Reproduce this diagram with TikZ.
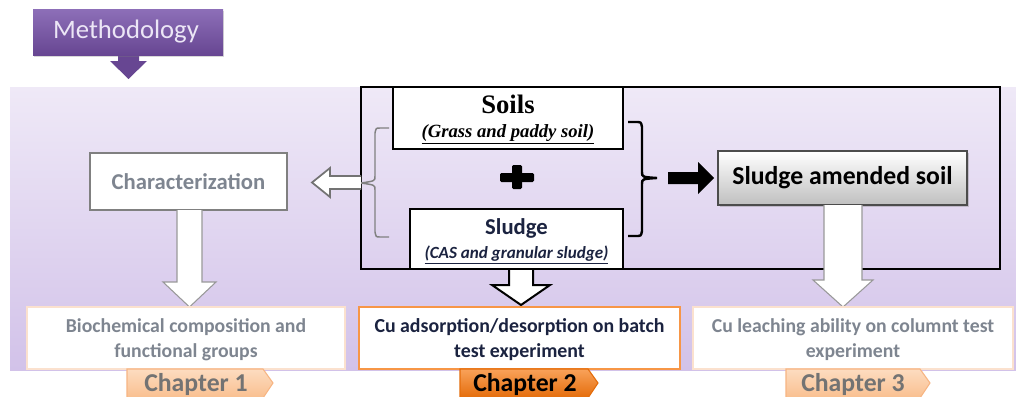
\documentclass[tikz,border=0pt]{standalone}
\usepackage{fontspec}
\setmainfont{Carlito}
\newfontfamily\timesf{Liberation Serif}
\usetikzlibrary{shadows}
\definecolor{bgtop}{HTML}{EFE9F7}
\definecolor{bgbot}{HTML}{D2C2E9}
\definecolor{purtop}{HTML}{8D6FB8}
\definecolor{purbot}{HTML}{674692}
\definecolor{purtxt}{HTML}{ECE6F6}
\definecolor{txtgray}{HTML}{7E8590}
\definecolor{peach}{HTML}{FBE1CE}
\definecolor{peachtop}{HTML}{FDDCC0}
\definecolor{peachbot}{HTML}{F9BF8F}
\definecolor{peachline}{HTML}{F7B583}
\definecolor{orangeA}{HTML}{F79646}
\definecolor{orangetop}{HTML}{F9A25A}
\definecolor{orangebot}{HTML}{E46C0A}
\definecolor{navy}{HTML}{1B2340}
\begin{document}
\begin{tikzpicture}[x=0.75pt,y=-0.75pt,
  every node/.style={inner sep=0pt, outer sep=0pt},
  blackbox/.style={draw=black, line width=1.5pt, fill=white},
  peachbox/.style={draw=peach, line width=1.2pt, fill=white},
  graytxt/.style={text=txtgray, font=\bfseries\fontsize{14.8}{19}\selectfont, align=center},
  chtxt/.style={font=\bfseries\fontsize{19.3}{20}\selectfont},
  hollow/.style={fill=white, draw=#1},
]
\useasboundingbox (0,0) rectangle (1016,396);
\clip (0,0) rectangle (1016,396);
\fill[white] (0,0) rectangle (1016,396);

% background panel
\shade[top color=bgtop, bottom color=bgbot] (10,87) rectangle (1016,370);

% Methodology
\fill[purbot] (118,55) -- (118,61) -- (110,61) -- (128.5,79) -- (147,61) -- (139,61) -- (139,55) -- cycle;
\node[minimum width=142.5pt, minimum height=34.5pt, top color=purtop, bottom color=purbot,
      drop shadow={opacity=0.3, shadow xshift=1pt, shadow yshift=-1.5pt}] (meth) at (128,32) {};
\node[text=purtxt, font=\fontsize{20}{22}\selectfont] (methT) at (126,32) {Methodology};

% frame
\node[draw=black, line width=1.8pt, minimum width=479.25pt, minimum height=136.5pt] (frame) at (680.5,178) {};

% soils box
\node[blackbox, minimum width=172.5pt, minimum height=46.5pt] (soils) at (508,118) {};
\node[font=\timesf\bfseries\fontsize{20}{22}\selectfont] (soilsT) at (508,104) {Soils};
\node[font=\timesf\bfseries\itshape\fontsize{14}{16}\selectfont] (soilsS) at (508,134) {\underline{(Grass and paddy soil)}};

% plus
\fill[black, rounded corners=1pt] (500,173) rectangle (534,182);
\fill[black, rounded corners=1pt] (512,165) rectangle (522,189);

% sludge box
\node[blackbox, minimum width=159.75pt, minimum height=45pt] (sludge) at (516.5,239) {};
\node[text=navy, font=\bfseries\fontsize{17}{19}\selectfont] (sludgeT) at (516.5,228) {Sludge};
\node[text=navy, font=\bfseries\itshape\fontsize{12.8}{14}\selectfont] (sludgeS) at (516.5,255) {\underline{(CAS and granular sludge)}};

% left gray brace
\draw[gray, line width=1.1pt] (389,128) -- (380,128) .. controls (376,128) .. (375,133) -- (375,176)
   .. controls (375,181) .. (361,183) .. controls (375,185) .. (375,190) -- (375,232)
   .. controls (376,237) .. (380,237) -- (389,237);

% right black brace
\draw[black, line width=1.8pt] (628,122) -- (636,122) .. controls (641,122) .. (642,127) -- (642,172)
   .. controls (642,177) .. (657,178) .. controls (642,179) .. (642,184) -- (642,231)
   .. controls (641,236) .. (636,236) -- (628,236);

% black arrow
\fill[black] (668,172) -- (698,172) -- (698,162) -- (714,178) -- (698,194) -- (698,184) -- (668,184) -- cycle;

% amended box
\node[draw=black!70, line width=0.8pt, top color=white, bottom color=black!25,
      minimum width=186.75pt, minimum height=40.5pt,
      drop shadow={opacity=0.35, shadow xshift=1.5pt, shadow yshift=-1.5pt}] (amended) at (842.5,178) {};
\node[font=\bfseries\fontsize{19.3}{21}\selectfont] (amendedT) at (842.5,178) {Sludge amended soil};

% characterization
\node[draw=black!50, line width=1.5pt, fill=white, minimum width=147.75pt, minimum height=42.75pt] (char) at (188.5,181.5) {};
\node[graytxt, font=\bfseries\fontsize{17}{19}\selectfont] (charT) at (188.5,182) {Characterization};

% hollow left arrow
\draw[black!55, line width=1.3pt, fill=white] (361,176) -- (330,176) -- (330,168) -- (312,182.5) -- (330,197) -- (330,189) -- (361,189);

% down arrows
\draw[hollow=black!40, line width=0.8pt] (177,210) -- (177,282) -- (163,282) -- (189.5,307) -- (216,282) -- (202,282) -- (202,210);
\draw[hollow=black, line width=1.5pt] (509,270) -- (509,285) -- (492,285) -- (521,305) -- (550,285) -- (533,285) -- (533,270);
\draw[hollow=black!40, line width=0.8pt] (824,205) -- (824,280) -- (813,280) -- (843,307) -- (873,280) -- (862,280) -- (862,205);

% bottom boxes
\node[peachbox, minimum width=238.5pt, minimum height=46.5pt] (bio) at (186,338) {};
\node[graytxt] (bioT) at (186,339.5) {Biochemical composition and\\functional groups};
\node[draw=orangeA, line width=1.8pt, fill=white, minimum width=240.75pt, minimum height=46.5pt] (cuads) at (519.5,338) {};
\node[text=navy, font=\bfseries\fontsize{14.9}{19}\selectfont, align=center] (cuadsT) at (519.5,339.5) {Cu adsorption/desorption on batch\\test experiment};
\node[peachbox, minimum width=240pt, minimum height=46.5pt] (culeach) at (853,338) {};
\node[graytxt] (culeachT) at (853,339.5) {Cu leaching ability on columnt test\\experiment};

% chapter tags
\shade[top color=peachtop, bottom color=peachbot, draw=peachline, line width=0.8pt]
  (127,369) -- (263,369) -- (273,383) -- (263,398) -- (127,398) -- cycle;
\node[chtxt, text=black!55] (ch1) at (196,384) {Chapter 1};
\shade[top color=orangetop, bottom color=orangebot, draw=orangebot, line width=0.8pt]
  (460,369) -- (588,369) -- (598,383) -- (588,398) -- (460,398) -- cycle;
\node[chtxt, text=black] (ch2) at (525,384) {Chapter 2};
\shade[top color=peachtop, bottom color=peachbot, draw=peachline, line width=0.8pt]
  (786,369) -- (920,369) -- (930,383) -- (920,398) -- (786,398) -- cycle;
\node[chtxt, text=black!55] (ch3) at (853,384) {Chapter 3};
\end{tikzpicture}
\end{document}
